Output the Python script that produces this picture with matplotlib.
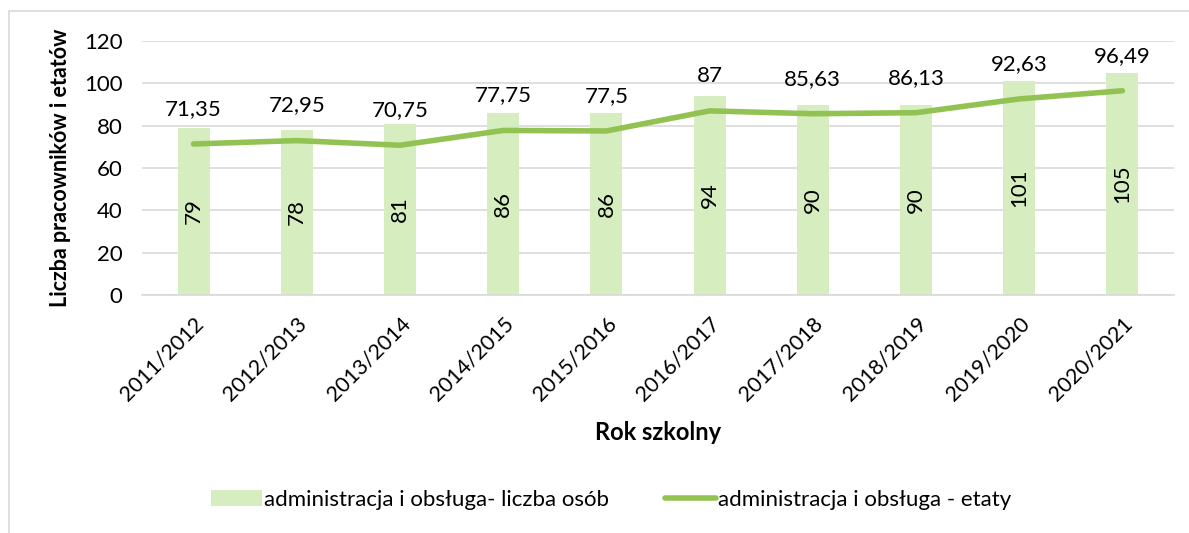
import matplotlib.pyplot as plt
import numpy as np
from matplotlib.patches import Rectangle

plt.rcParams['font.family'] = ['Lato', 'DejaVu Sans']

lata = ['2011/2012', '2012/2013', '2013/2014', '2014/2015', '2015/2016',
        '2016/2017', '2017/2018', '2018/2019', '2019/2020', '2020/2021']
osoby = [79, 78, 81, 86, 86, 94, 90, 90, 101, 105]
etaty = [71.35, 72.95, 70.75, 77.75, 77.5, 87, 85.63, 86.13, 92.63, 96.49]

x = np.arange(len(lata))

fig = plt.figure(figsize=(11.89, 5.33), dpi=100)
ax = fig.add_axes([142/1189, 1 - 295/533, (1174 - 142)/1189, (295 - 41)/533])

# ramka wykresu
fig.patches.append(Rectangle((9/1189, -0.1), 1.2, 1 - 11/533 + 0.1, transform=fig.transFigure,
                             fill=False, edgecolor='#D9D9D9', linewidth=1.2))

ax.bar(x, osoby, width=0.31, color='#D5EDBF', label='administracja i obsługa- liczba osób', zorder=2)
ax.plot(x, etaty, color='#92C352', linewidth=4, solid_capstyle='round',
        label='administracja i obsługa - etaty', zorder=3)

for xi, v in zip(x, osoby):
    ax.text(xi, v / 2, str(v), rotation=90, ha='center', va='center', fontsize=16, zorder=4)
for xi, v in zip(x, etaty):
    s = ('%g' % v).replace('.', ',')
    ax.annotate(s, (xi, v), xytext=(0, 35), textcoords='offset pixels',
                ha='center', va='center', fontsize=16, zorder=4)

ax.set_xlim(-0.5, len(lata) - 0.5)
ax.set_ylim(0, 120)
ax.set_yticks(range(0, 121, 20))
ax.set_xticks(x)
ax.set_xticklabels(lata, rotation=45, ha='right', rotation_mode='anchor', fontsize=15.5)
ax.tick_params(axis='y', labelsize=16, length=0, pad=14)
ax.tick_params(axis='x', length=0, pad=13)
ax.grid(axis='y', color='#D9D9D9', linewidth=1.2, zorder=0)
for s in ['top', 'right', 'left']:
    ax.spines[s].set_visible(False)
ax.spines['bottom'].set_color('#D9D9D9')
ax.spines['bottom'].set_linewidth(1.2)

ax.set_ylabel('Liczba pracowników i etatów', fontsize=15.5, fontweight='bold', labelpad=9)
ax.set_xlabel('Rok szkolny', fontsize=17, fontweight='bold', labelpad=12)

h, l = ax.get_legend_handles_labels()
fig.legend(h[::-1], l[::-1], loc='center', bbox_to_anchor=(611/1189, 1 - 500/533), ncol=2, frameon=False,
           fontsize=16, handlelength=2.3, handletextpad=0.1, columnspacing=2.5)

fig.savefig('out.png', dpi=100)
